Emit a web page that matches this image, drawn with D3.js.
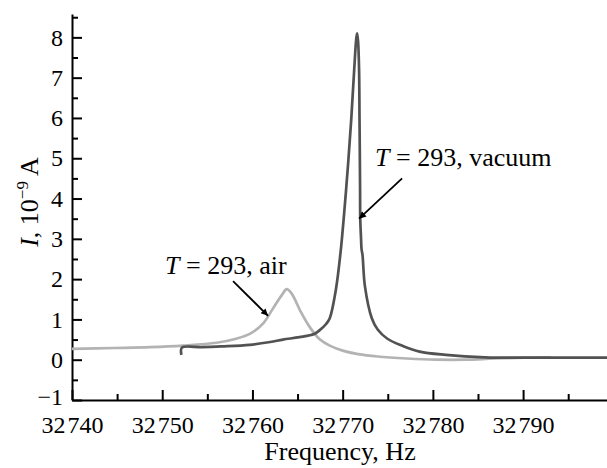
<html>
<head>
<style>
  body { margin: 0; background: #fff; }
  svg text { font-family: "Liberation Serif", "Times New Roman", serif; fill: #000; }
  .axis path, .axis line { stroke: #000; stroke-width: 2; }
  .curve { fill: none; stroke-width: 2.7; stroke-linejoin: round; }
</style>
</head>
<body>
<svg id="chart" width="607" height="468"></svg>
<script src="https://d3js.org/d3.v7.min.js"></script>
<script>
// frequency (Hz) and current (10^-9 A)
const vacuumFreq = [32752.13, 32752.18, 32754.4, 32756.56, 32759.7, 32761.97, 32763.38, 32765.22, 32766.84, 32767.49,
  32768.14, 32768.57, 32769.22, 32769.76, 32770.41, 32770.95, 32771.28, 32771.5, 32771.6, 32771.71,
  32771.82, 32771.87, 32771.93, 32771.95, 32772.04, 32772.09, 32772.2, 32772.47, 32773.23, 32773.88,
  32774.96, 32776.58, 32778.53, 32781.45, 32785.78, 32790.11, 32794.43, 32799.3]
const vacuumI = [0.12, 0.30, 0.31, 0.33, 0.37, 0.44, 0.50, 0.56, 0.64, 0.74,
  0.88, 1.03, 1.7, 2.65, 4.3, 5.96, 7.2, 7.95, 8.1, 7.9,
  7.2, 5.96, 4.3, 3.5, 3.0, 2.75, 2.6, 1.82, 1.03, 0.75,
  0.52, 0.35, 0.2, 0.12, 0.06, 0.05, 0.05, 0.05]

const airFreq = [32740, 32744.66, 32748.66, 32752.34, 32756.02, 32758.19, 32759.7, 32761.22, 32762.3, 32763.27,
  32763.81, 32764.35, 32765.33, 32766.41, 32767.49, 32768.57, 32770.09, 32771.71, 32773.88, 32777.12,
  32780.37, 32783.61, 32786.86, 32790.11, 32793.03]
const airI = [0.27, 0.29, 0.31, 0.35, 0.42, 0.52, 0.64, 0.91, 1.28, 1.61,
  1.75, 1.64, 1.2, 0.79, 0.5, 0.35, 0.22, 0.14, 0.08, 0.03,
  0.0, 0.0, 0.03, 0.05, 0.06]

const xMajor = [32740, 32750, 32760, 32770, 32780, 32790]
const xMinor = [32745, 32755, 32765, 32775, 32785, 32795]
const yMajor = [-1, 0, 1, 2, 3, 4, 5, 6, 7, 8]
const yMinor = [-0.5, 0.5, 1.5, 2.5, 3.5, 4.5, 5.5, 6.5, 7.5, 8.5]

// annotation: text anchor point, arrow tail, arrow head (data coords)
const notes = [
  { name: "air", text: [32757.05, 2.12], tail: [32757.85, 1.95], head: [32761.73, 1.09], anchor: "middle" },
  { name: "vacuum", text: [32773.59, 4.8], tail: [32776.59, 4.5], head: [32771.82, 3.5], anchor: "start" }
]

let svg = d3.select("#chart")

let xScale = d3.scaleLinear().domain([32740, 32799.3]).range([72, 607])
let yScale = d3.scaleLinear().domain([-1, 8.58]).range([400, 14])

svg.append("defs").append("marker")
  .attr("id", "arrow")
  .attr("viewBox", "0 0 10 10")
  .attr("refX", 10).attr("refY", 5)
  .attr("markerWidth", 10).attr("markerHeight", 7)
  .attr("markerUnits", "userSpaceOnUse")
  .attr("orient", "auto")
  .append("path").attr("d", "M0,0L10,5L0,10z").attr("fill", "#000")

// minor ticks
svg.append("g").attr("class", "axis")
  .attr("transform", "translate(0,400)")
  .call(d3.axisBottom(xScale).tickValues(xMinor).tickSize(-6).tickFormat(""))
  .call(g => g.select(".domain").remove())
svg.append("g").attr("class", "axis")
  .attr("transform", "translate(72,0)")
  .call(d3.axisLeft(yScale).tickValues(yMinor).tickSize(-6).tickFormat(""))
  .call(g => g.select(".domain").remove())

// major axes
svg.append("g").attr("class", "axis")
  .attr("transform", "translate(0,400)")
  .call(d3.axisBottom(xScale).tickValues(xMajor).tickSizeInner(-10).tickSizeOuter(0).tickPadding(16).tickFormat(""))
  .call(g => g.selectAll(".tick text").each(function(d) {
    let s = String(d)
    let t = d3.select(this).attr("font-size", 24).attr("dy", "0.71em")
    t.append("tspan").text(s.slice(0, 2))
    t.append("tspan").attr("dx", 2).text(s.slice(2))
  }))
svg.append("g").attr("class", "axis")
  .attr("transform", "translate(72,0)")
  .call(d3.axisLeft(yScale).tickValues(yMajor).tickSizeInner(-10).tickSizeOuter(0).tickPadding(9)
    .tickFormat(d => d < 0 ? "\u2212" + Math.abs(d) : d))
  .call(g => g.selectAll("text").attr("font-size", 24))
  .call(g => g.selectAll(".tick text").filter(d => d === -1).attr("y", -3))

// curves
let line = d3.line()
  .x(d => xScale(d[0]))
  .y(d => yScale(d[1]))
  .curve(d3.curveCatmullRom.alpha(0.5))

svg.append("path").attr("class", "curve")
  .datum(airFreq.map((f, i) => [f, airI[i]]))
  .attr("stroke", "#b3b3b3")
  .attr("d", line)

svg.append("path").attr("class", "curve")
  .datum(vacuumFreq.map((f, i) => [f, vacuumI[i]]))
  .attr("stroke", "#525252")
  .attr("d", line)

// annotations
notes.forEach(n => {
  svg.append("line")
    .attr("x1", xScale(n.tail[0])).attr("y1", yScale(n.tail[1]))
    .attr("x2", xScale(n.head[0])).attr("y2", yScale(n.head[1]))
    .attr("stroke", "#000").attr("stroke-width", 1.8)
    .attr("marker-end", "url(#arrow)")
  let t = svg.append("text")
    .attr("x", xScale(n.text[0])).attr("y", yScale(n.text[1]))
    .attr("text-anchor", n.anchor).attr("font-size", 26)
  t.append("tspan").attr("font-style", "italic").text("T")
  t.append("tspan").text(" = 293, " + n.name)
})

// axis titles
svg.append("text")
  .attr("x", 340).attr("y", 460)
  .attr("text-anchor", "middle").attr("font-size", 26)
  .text("Frequency, Hz")

let yt = svg.append("text")
  .attr("transform", "translate(38,202) rotate(-90)")
  .attr("text-anchor", "middle").attr("font-size", 26)
yt.append("tspan").attr("font-style", "italic").text("I")
yt.append("tspan").text(", 10")
yt.append("tspan").attr("font-size", 17).attr("dy", -10).text("\u22129")
yt.append("tspan").attr("dy", 10).text(" A")
</script>
</body>
</html>
